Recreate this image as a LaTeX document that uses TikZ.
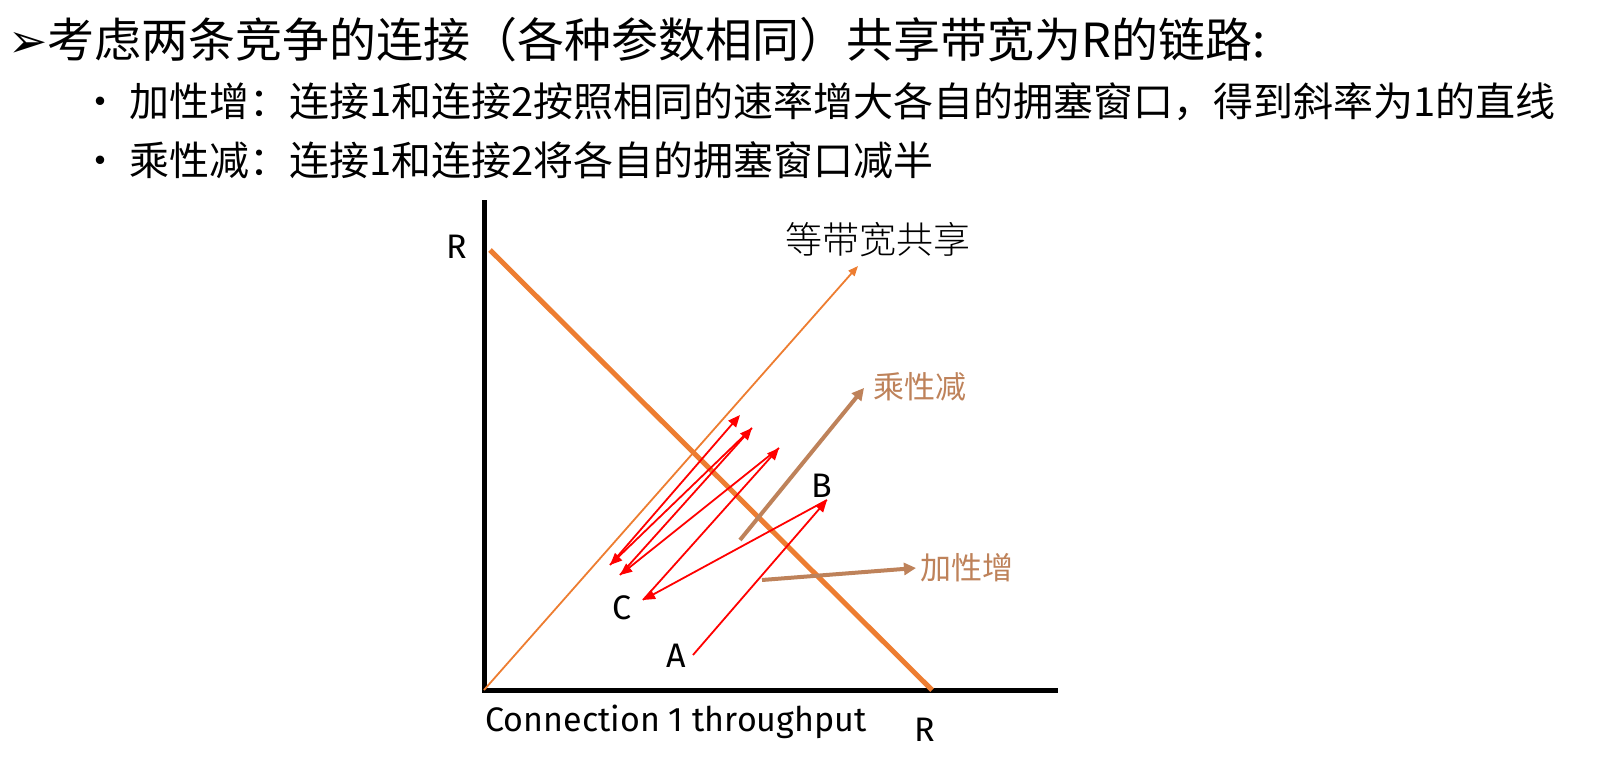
\documentclass[tikz,border=0pt]{standalone}
\usepackage{fontspec}
\setmainfont{Noto Sans CJK SC}
\newfontfamily\cjk{Noto Sans CJK SC}
\newfontfamily\cjkserif{Noto Sans CJK SC Light}
\newfontfamily\dv{DejaVu Sans}
\newfontfamily\lab{Fira Sans}
\usetikzlibrary{arrows.meta}
\definecolor{org}{RGB}{237,125,49}
\definecolor{brn}{RGB}{190,130,90}
\begin{document}
\begin{tikzpicture}[x=1pt,y=-1pt,
  redarr/.style={red,line width=1.8pt,-{Triangle[length=12pt,width=10pt]}},
  brnarr/.style={brn,line width=4pt,-{Triangle[length=12pt,width=12pt]}},
  lbl/.style={font=\lab\fontsize{34}{36}\selectfont},
  btext/.style={anchor=west,inner sep=0,font=\cjk\fontsize{40}{44}\selectfont}]
\useasboundingbox (0,0) rectangle (1623,781);
\node[anchor=west,inner sep=0,font=\cjk\fontsize{47}{52}\selectfont] (title) at (8,40) {{\dv ➢}考虑两条竞争的连接（各种参数相同）共享带宽为R的链路:};
\node[btext] (b1) at (80,102) {• 加性增：连接1和连接2按照相同的速率增大各自的拥塞窗口，得到斜率为1的直线};
\node[btext] (b2) at (80,160) {• 乘性减：连接1和连接2将各自的拥塞窗口减半};
% axes
\coordinate (O) at (484,690);
\coordinate (Ytop) at (484,200);
\coordinate (Xend) at (1058,690);
\draw[line width=5pt] (Ytop) -- (O) -- (Xend);
\coordinate (L1) at (490,250);
\coordinate (L2) at (932,690);
\draw[org,line width=5pt] (L1) -- (L2);
\coordinate (E) at (858,266);
\draw[org,line width=1.8pt,-{Triangle[length=10pt,width=8pt]}] (O) -- (E);
\node[font=\cjkserif\fontsize{37}{40}\selectfont] (eq) at (878,240) {等带宽共享};
\node[lbl] (rY) at (457,247) {R};
\node[lbl] (rX) at (925,730) {R};
\node[lbl] (xl) at (676,722) {Connection 1 throughput};
% points
\coordinate (pA) at (693,655);
\coordinate (pB) at (827,500);
\coordinate (pC) at (643,600);
\coordinate (p1) at (779,448);
\coordinate (p2) at (620,575);
\coordinate (p3) at (752,428);
\coordinate (p4) at (610,565);
\coordinate (p5) at (740,415);
\draw[redarr] (pA) -- (pB);
\draw[redarr] (pB) -- (pC);
\draw[redarr] (pC) -- (p1);
\draw[redarr] (p1) -- (p2);
\draw[redarr] (p2) -- (p3);
\draw[redarr] (p3) -- (p4);
\draw[redarr] (p4) -- (p5);
\node[lbl] (nA) at (676,656) {A};
\node[lbl] (nB) at (822,486) {B};
\node[lbl] (nC) at (622,608) {C};
% brown arrows
\coordinate (m1) at (740,540);
\coordinate (m2) at (864,388);
\draw[brnarr] (m1) -- (m2);
\node[brn,font=\cjk\fontsize{31}{34}\selectfont] (mul) at (920,387) {乘性减};
\coordinate (a1) at (762,580);
\coordinate (a2) at (916,568);
\draw[brnarr] (a1) -- (a2);
\node[brn,font=\cjk\fontsize{31}{34}\selectfont] (add) at (967,568) {加性增};
\end{tikzpicture}
\end{document}
